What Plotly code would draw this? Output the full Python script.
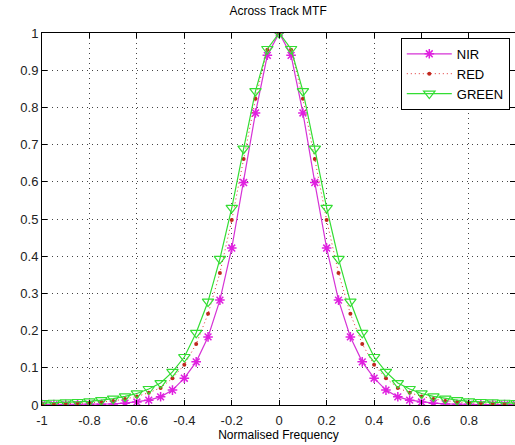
import plotly.graph_objects as go

freq = [-1.0, -0.95, -0.9, -0.85, -0.8, -0.75, -0.7, -0.65, -0.6, -0.55, -0.5,
        -0.45, -0.4, -0.35, -0.3, -0.25, -0.2, -0.15, -0.1, -0.05, 0.0,
        0.05, 0.1, 0.15, 0.2, 0.25, 0.3, 0.35, 0.4, 0.45, 0.5,
        0.55, 0.6, 0.65, 0.7, 0.75, 0.8, 0.85, 0.9, 0.95, 1.0]

nir = [0.001, 0.001, 0.001, 0.001, 0.002, 0.002, 0.003, 0.005, 0.008, 0.013, 0.022,
       0.040, 0.072, 0.116, 0.183, 0.282, 0.422, 0.598, 0.785, 0.940, 1.0,
       0.940, 0.785, 0.598, 0.422, 0.282, 0.183, 0.116, 0.072, 0.040, 0.022,
       0.013, 0.008, 0.005, 0.003, 0.002, 0.002, 0.001, 0.001, 0.001, 0.001]

red = [0.003, 0.003, 0.004, 0.005, 0.006, 0.008, 0.011, 0.016, 0.023, 0.033, 0.046,
       0.072, 0.108, 0.164, 0.245, 0.355, 0.497, 0.661, 0.823, 0.955, 1.0,
       0.955, 0.823, 0.661, 0.497, 0.355, 0.245, 0.164, 0.108, 0.072, 0.046,
       0.033, 0.023, 0.016, 0.011, 0.008, 0.006, 0.005, 0.004, 0.003, 0.003]

green = [0.005, 0.006, 0.007, 0.008, 0.010, 0.013, 0.017, 0.023, 0.031, 0.043, 0.059,
         0.089, 0.129, 0.194, 0.278, 0.393, 0.530, 0.689, 0.844, 0.957, 1.0,
         0.957, 0.844, 0.689, 0.530, 0.393, 0.278, 0.194, 0.129, 0.089, 0.059,
         0.043, 0.031, 0.023, 0.017, 0.013, 0.010, 0.008, 0.007, 0.006, 0.005]

x_ticks = [-1, -0.8, -0.6, -0.4, -0.2, 0, 0.2, 0.4, 0.6, 0.8, 1]
x_labels = ["-1", "-0.8", "-0.6", "-0.4", "-0.2", "0", "0.2", "0.4", "0.6", "0.8", "1"]
y_ticks = [0, 0.1, 0.2, 0.3, 0.4, 0.5, 0.6, 0.7, 0.8, 0.9, 1]
y_labels = ["0", "0.1", "0.2", "0.3", "0.4", "0.5", "0.6", "0.7", "0.8", "0.9", "1"]

FONT = "Liberation Sans, Arial"

fig = go.Figure()
fig.add_trace(go.Scatter(
    x=freq, y=nir, name="NIR", mode="lines+markers",
    line=dict(color="#d633d6", width=1.2),
    marker=dict(symbol="asterisk-open", size=8, color="#e020e0",
                line=dict(color="#e020e0", width=1.5))))
fig.add_trace(go.Scatter(
    x=freq, y=red, name="RED", mode="lines+markers",
    line=dict(color="#e03030", width=1, dash="1px,3px"),
    marker=dict(symbol="circle", size=4, color="#c0281e")))
fig.add_trace(go.Scatter(
    x=freq, y=green, name="GREEN", mode="lines+markers",
    line=dict(color="#33dd33", width=1.2),
    marker=dict(symbol="triangle-down-open", size=10, color="#33dd33",
                line=dict(color="#33dd33", width=1.2))))

axis_common = dict(
    showline=True, linecolor="black", linewidth=1, mirror="ticks",
    ticks="inside", ticklen=5, tickcolor="black",
    showgrid=True, gridcolor="#444444", griddash="1px,4px", gridwidth=1,
    zeroline=False,
    tickfont=dict(family=FONT, size=13, color="#222222"),
)

fig.update_layout(
    width=515, height=445,
    margin=dict(l=42, r=0, t=33, b=40),
    paper_bgcolor="white", plot_bgcolor="white",
    title=dict(text="Across Track MTF", x=0.54, xanchor="center", y=0.985, yanchor="top",
               font=dict(family=FONT, size=12, color="black")),
    xaxis=dict(range=[-1, 0.994], tickvals=x_ticks, ticktext=x_labels,
               ticklabelstandoff=3,
               title=dict(text="Normalised Frequency", standoff=3,
                          font=dict(family=FONT, size=12, color="black")),
               **axis_common),
    yaxis=dict(range=[0, 1], tickvals=y_ticks, ticktext=y_labels, **axis_common),
    legend=dict(x=0.989, y=0.987, xanchor="right", yanchor="top",
                bgcolor="white", bordercolor="black", borderwidth=1,
                font=dict(family=FONT, size=13, color="black"),
                tracegroupgap=0, itemwidth=45),
    showlegend=True,
)

fig.write_html("out.html")
